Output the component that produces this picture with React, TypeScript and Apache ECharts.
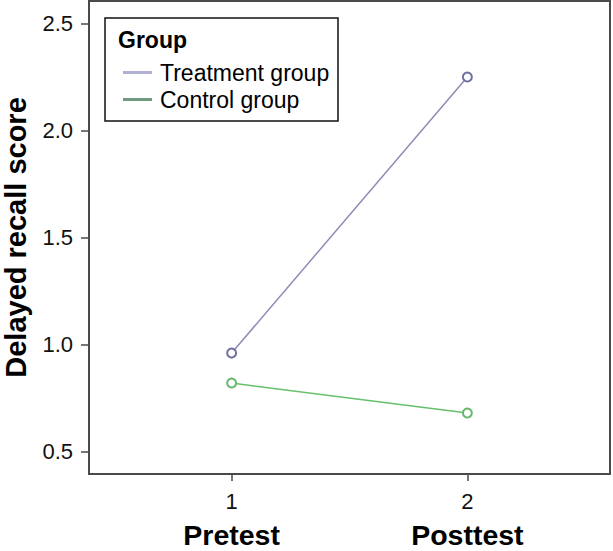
import React, { useEffect, useRef } from "react";
import * as echarts from "echarts";

const timePoints = [1, 2];
const timeNames = ["Pretest", "Posttest"];
const yTicks = [0.5, 1.0, 1.5, 2.0, 2.5];
const treatment = [0.96, 2.25];
const control = [0.82, 0.68];
const seriesNames = ["Treatment group", "Control group"];

export default function App() {
  const ref = useRef<HTMLDivElement>(null);
  useEffect(() => {
    const chart = echarts.init(ref.current!, null, { renderer: "svg" });
    const font = "Liberation Sans, Arial, sans-serif";
    chart.setOption({
      animation: false,
      textStyle: { fontFamily: font },
      grid: {
        left: 89,
        right: 3,
        top: 1,
        bottom: 77,
        outerBoundsMode: "none",
        containLabel: false,
        show: true,
        borderColor: "#4a4a4a",
        borderWidth: 2,
        backgroundColor: "#fff",
      },
      xAxis: {
        type: "value",
        min: 0.395,
        max: 2.605,
        splitLine: { show: false },
        axisLine: { show: true, lineStyle: { color: "#4a4a4a", width: 2 } },
        axisTick: { show: true, customValues: timePoints, length: 7, lineStyle: { color: "#4a4a4a", width: 1.5 } },
        axisLabel: {
          customValues: timePoints,
          margin: 8,
          formatter: (v: number) => {
            const i = timePoints.indexOf(v);
            return `{n|${v}}\n{t|${i >= 0 ? timeNames[i] : ""}}`;
          },
          rich: {
            n: { fontSize: 22, color: "#111", lineHeight: 39, fontFamily: font },
            t: { fontSize: 28.5, fontWeight: "bold", color: "#000", lineHeight: 28, fontFamily: font },
          },
        },
      },
      yAxis: {
        type: "value",
        min: 0.395,
        max: 2.605,
        name: "Delayed recall score",
        nameLocation: "middle",
        nameGap: 59,
        nameTextStyle: { fontSize: 29, fontWeight: "bold", color: "#000", fontFamily: font },
        splitLine: { show: false },
        axisLine: { show: true, lineStyle: { color: "#4a4a4a", width: 2 } },
        axisTick: { show: true, customValues: yTicks, length: 8, lineStyle: { color: "#4a4a4a", width: 1.5 } },
        axisLabel: {
          customValues: yTicks,
          margin: 16,
          fontSize: 22,
          color: "#111",
          formatter: (v: number) => v.toFixed(1),
        },
      },
      legend: {
        orient: "vertical",
        left: 118,
        top: 56,
        itemWidth: 29,
        itemHeight: 3,
        itemGap: 4,
        icon: "rect",
        textStyle: { fontSize: 23, color: "#000", fontFamily: font, padding: [0, 0, 0, 3] },
        data: [
          { name: seriesNames[0], itemStyle: { color: "#b0b1d2" } },
          { name: seriesNames[1], itemStyle: { color: "#6f9a80" } },
        ],
      },
      graphic: [
        {
          type: "rect",
          shape: { x: 105, y: 18, width: 233, height: 103 },
          style: { fill: "none", stroke: "#111", lineWidth: 1.5 },
          z: 10,
        },
        {
          type: "text",
          x: 118,
          y: 28,
          style: { text: "Group", fontSize: 23, fontWeight: "bold", fill: "#000", fontFamily: font },
          z: 10,
        },
      ],
      series: [
        {
          name: seriesNames[0],
          type: "line",
          data: timePoints.map((x, i) => [x, treatment[i]]),
          symbol: "emptyCircle",
          symbolSize: 9,
          lineStyle: { color: "#8c8db5", width: 1.5 },
          itemStyle: { color: "#6e70a0", borderWidth: 1.5 },
        },
        {
          name: seriesNames[1],
          type: "line",
          data: timePoints.map((x, i) => [x, control[i]]),
          symbol: "emptyCircle",
          symbolSize: 9,
          lineStyle: { color: "#66c06a", width: 1.5 },
          itemStyle: { color: "#66b86a", borderWidth: 1.5 },
        },
      ],
    });
    return () => chart.dispose();
  }, []);
  return <div ref={ref} style={{ width: 613, height: 551, position: "absolute", left: 0, top: 0 }} />;
}
